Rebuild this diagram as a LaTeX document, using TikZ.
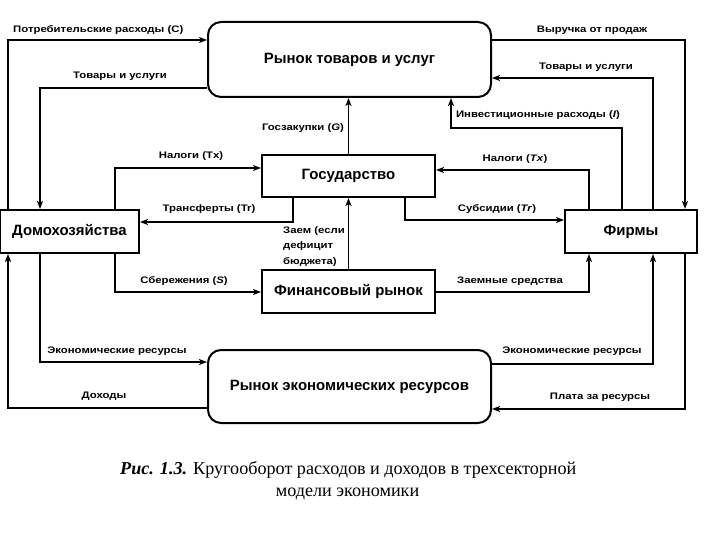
\documentclass[tikz,border=0pt]{standalone}
\usepackage{fontspec}
\setmainfont{Liberation Sans}
\newfontfamily\lblfont[FakeStretch=1.2]{Liberation Sans}
\newfontfamily\capfont{Liberation Serif}
\usetikzlibrary{arrows.meta}
\begin{document}
\begin{tikzpicture}[x=1bp,y=-1bp,
  boxstyle/.style={draw, line width=2bp, inner sep=0pt, font=\fontsize{15}{17}\selectfont\bfseries},
  mktstyle/.style={boxstyle, rounded corners=13bp},
  conn/.style={line width=1.5bp, -{Stealth[length=8bp,width=6bp,inset=2bp]}},
  lbl/.style={font=\lblfont\fontsize{9.5}{11}\selectfont\bfseries, inner sep=0pt},
  capstyle/.style={font=\capfont\fontsize{18.2}{21}\selectfont, inner sep=0pt}]
\useasboundingbox (0,0) rectangle (720,540);

% boxes
\node[mktstyle, minimum width=283bp, minimum height=75bp] (gm) at (349.5,59.5) {Рынок товаров и услуг};
\node[mktstyle, minimum width=283bp, minimum height=73bp] (rm) at (349.5,386.5) {Рынок экономических ресурсов};
\node[boxstyle, minimum width=139bp, minimum height=43bp] (hh) at (69.5,231.5) {Домохозяйства};
\node[boxstyle, minimum width=173bp, minimum height=42bp] (gov) at (348.5,176) {Государство};
\node[boxstyle, minimum width=173bp, minimum height=43bp] (fin) at (348.5,291.5) {Финансовый рынок};
\node[boxstyle, minimum width=132bp, minimum height=43bp] (firms) at (631,231.5) {Фирмы};

% columns and rows
\coordinate (xA) at (8,0);
\coordinate (xB) at (40,0);
\coordinate (xC) at (115,0);
\coordinate (xTr) at (293,0);
\coordinate (xSub) at (405,0);
\coordinate (xI) at (451,0);
\coordinate (xTx) at (589,0);
\coordinate (xInv) at (622,0);
\coordinate (xG) at (653,0);
\coordinate (xRev) at (685,0);
\coordinate (yC) at (0,40);
\coordinate (yGL) at (0,88);
\coordinate (yGR) at (0,78);
\coordinate (yI) at (0,128);
\coordinate (yTxL) at (0,168);
\coordinate (yTxR) at (0,170);
\coordinate (yTr) at (0,222);
\coordinate (ySub) at (0,220);
\coordinate (yS) at (0,292);
\coordinate (yERL) at (0,362);
\coordinate (yERR) at (0,364);
\coordinate (yInc) at (0,408);
\coordinate (yPay) at (0,409);

% connectors
\draw[conn] (hh.north -| xA) |- (gm.west |- yC);
\draw[conn] (gm.west |- yGL) -| (hh.north -| xB);
\draw[conn] (gm.east |- yC) -| (firms.north -| xRev);
\draw[conn] (firms.north -| xG) |- (gm.east |- yGR);
\draw[conn] (firms.north -| xInv) |- (yI -| xI) -- (gm.south -| xI);
\draw[conn] (gov.north) -- (gov.north |- gm.south);
\draw[conn] (hh.north -| xC) |- (gov.west |- yTxL);
\draw[conn] (gov.south -| xTr) |- (hh.east |- yTr);
\draw[conn] (firms.north -| xTx) |- (gov.east |- yTxR);
\draw[conn] (gov.south -| xSub) |- (firms.west |- ySub);
\draw[conn] (fin.north) -- (gov.south);
\draw[conn] (hh.south -| xC) |- (fin.west |- yS);
\draw[conn] (fin.east |- yS) -| (firms.south -| xTx);
\draw[conn] (hh.south -| xB) |- (rm.west |- yERL);
\draw[conn] (rm.west |- yInc) -| (hh.south -| xA);
\draw[conn] (rm.east |- yERR) -| (firms.south -| xG);
\draw[conn] (firms.south -| xRev) |- (rm.east |- yPay);

% labels
\node[lbl, anchor=west] (lC) at (13,30) {Потребительские расходы (C)};
\node[lbl] (lGL) at (120,76) {Товары и услуги};
\node[lbl] (lRev) at (592,30) {Выручка от продаж};
\node[lbl] (lGR) at (586,67) {Товары и услуги};
\node[lbl] (lI) at (538,115) {Инвестиционные расходы (\textit{I})};
\node[lbl] (lG) at (303,128) {Госзакупки (\textit{G})};
\node[lbl] (lTxL) at (191,156) {Налоги (Tx)};
\node[lbl] (lTr) at (209,209) {Трансферты (Tr)};
\node[lbl, anchor=north west, align=left, font=\lblfont\fontsize{9.5}{16}\selectfont\bfseries] (lLoan) at (283,226) {Заем (если\\дефицит\\бюджета)};
\node[lbl] (lS) at (184,281) {Сбережения (\textit{S})};
\node[lbl] (lTxR) at (515,159) {Налоги (\textit{Tx})};
\node[lbl] (lSub) at (497,209) {Субсидии (\textit{Tr})};
\node[lbl] (lLoans) at (510,281) {Заемные средства};
\node[lbl] (lERL) at (117,351) {Экономические ресурсы};
\node[lbl] (lInc) at (104,396) {Доходы};
\node[lbl] (lERR) at (572,351) {Экономические ресурсы};
\node[lbl] (lPay) at (600,397) {Плата за ресурсы};

% caption
\node[capstyle, anchor=west] (cap1) at (120,470) {\textbf{\textit{Рис. 1.3.}} Кругооборот расходов и доходов в трехсекторной};
\node[capstyle] (cap2) at (347.5,494) {модели экономики};
\end{tikzpicture}
\end{document}
